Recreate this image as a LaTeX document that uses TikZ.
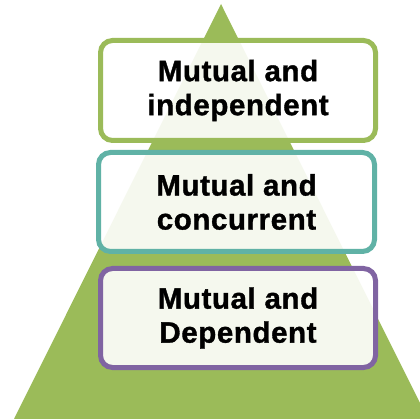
\documentclass[tikz,border=0pt]{standalone}
\usepackage{fontspec}
\setmainfont{Liberation Sans}
\newfontfamily\tierfont[BoldFeatures={FakeBold=1.2}, LetterSpace=2]{Liberation Sans}
\definecolor{pgreen}{RGB}{155,187,89}
\definecolor{pteal}{RGB}{96,178,166}
\definecolor{ppurple}{RGB}{128,100,162}
\begin{document}
\begin{tikzpicture}[x=1pt,y=-1pt,
  tier/.style={draw, line width=5pt, rounded corners=12pt, fill=white,
    fill opacity=0.9, text opacity=1, align=center,
    font=\tierfont\fontsize{29.5}{34}\selectfont\bfseries, text=black}]
\useasboundingbox (0,0) rectangle (420,419);
\fill[pgreen] (221,4) -- (420,403) -- (420,419) -- (14,419) -- cycle;
\node[tier, draw=pgreen, minimum width=275pt, minimum height=100pt] (t1) at (238,90.5) {Mutual and\\independent};
\node[tier, draw=pteal, minimum width=276pt, minimum height=99pt] (t2) at (236.5,202) {Mutual and\\concurrent};
\node[tier, draw=ppurple, minimum width=275pt, minimum height=99pt] (t3) at (238,318) {Mutual and\\Dependent};
\end{tikzpicture}
\end{document}
